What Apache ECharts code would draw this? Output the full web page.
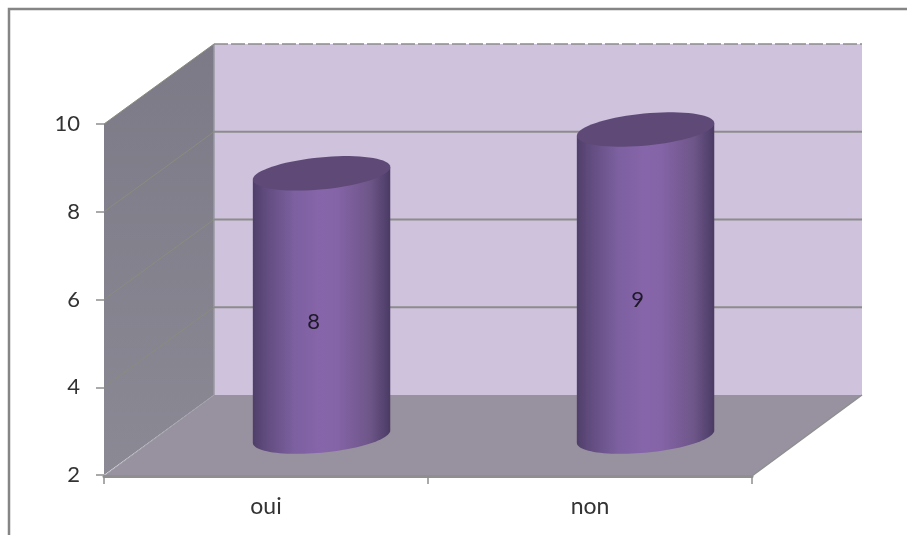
<!DOCTYPE html>
<html>
<head>
<meta charset="utf-8">
<style>
  html, body { margin: 0; padding: 0; background: #fff; }
  #chart { width: 907px; height: 535px; }
</style>
<script src="https://cdn.jsdelivr.net/npm/echarts@6/dist/echarts.min.js"></script>
</head>
<body>
<div id="chart"></div>
<script>
const categories = ['oui', 'non'];
const answers = [8, 9];
const tickValues = [2, 4, 6, 8, 10];

// Oblique projection of the chart box: how far the back wall sits from the front plane.
const DEPTH_X = 110;
const DEPTH_Y = 80;
// Where the cylinders stand between the front plane (0) and the back wall (1).
const BAR_DEPTH_X = 0.505;
const BAR_DEPTH_Y = 0.48;
// Cylinder footprint, relative to the category band width.
const RADIUS_RATIO = 0.213;
const MINOR_RADIUS = 16;
const TILT = 5.5 * Math.PI / 180;

const font = 'Lato, "Open Sans", sans-serif';

// Draws the walls, floor and the gridlines that run around the box.
function renderBox(params, api) {
  const value = api.value(1);
  const band = api.size([1, 0])[0];
  const left = api.coord([0, 2])[0] - band / 2;
  const right = left + band * 2;
  const y = api.coord([0, value])[1];
  const top = api.coord([0, 10])[1];
  const bottom = api.coord([0, 2])[1];
  const children = [];

  if (value === 2) {
    children.push({
      type: 'polygon',
      shape: { points: [[left + DEPTH_X, top - DEPTH_Y], [right + DEPTH_X, top - DEPTH_Y],
                        [right + DEPTH_X, bottom - DEPTH_Y], [left + DEPTH_X, bottom - DEPTH_Y]] },
      style: { fill: '#cec2dd' }
    }, {
      type: 'polygon',
      shape: { points: [[left, top], [left + DEPTH_X, top - DEPTH_Y],
                        [left + DEPTH_X, bottom - DEPTH_Y], [left, bottom]] },
      style: {
        fill: new echarts.graphic.LinearGradient(0, 0, 0, 1, [
          { offset: 0, color: '#7c7a86' },
          { offset: 1, color: '#8b8994' }
        ])
      }
    }, {
      type: 'polygon',
      shape: { points: [[left, bottom + 1], [right, bottom + 1],
                        [right + DEPTH_X, bottom - DEPTH_Y], [left + DEPTH_X, bottom - DEPTH_Y]] },
      style: { fill: '#9891a0' }
    }, {
      type: 'line',
      shape: { x1: left, y1: bottom + 1, x2: left + DEPTH_X, y2: bottom - DEPTH_Y },
      style: { stroke: '#a3a1ab', lineWidth: 1 }
    }, {
      type: 'line',
      shape: { x1: left + DEPTH_X, y1: top - DEPTH_Y, x2: left + DEPTH_X, y2: bottom - DEPTH_Y },
      style: { stroke: '#9a98a4', lineWidth: 1.5 }
    }, {
      type: 'line',
      shape: { x1: right, y1: bottom + 1, x2: right + DEPTH_X, y2: bottom - DEPTH_Y },
      style: { stroke: '#8f8f8f', lineWidth: 1.5 }
    });
  } else {
    // Gridline on the side wall, then across the back wall.
    children.push({
      type: 'line',
      shape: { x1: left, y1: y, x2: left + DEPTH_X, y2: y - DEPTH_Y },
      style: { stroke: '#8b8b80', lineWidth: 1 }
    }, {
      type: 'line',
      shape: { x1: left + DEPTH_X, y1: y - DEPTH_Y, x2: right + DEPTH_X, y2: y - DEPTH_Y },
      style: value === 10
        ? { stroke: '#8c8c8c', lineWidth: 1.5, lineDash: [14, 3] }
        : { stroke: '#8c8c8c', lineWidth: 2 }
    });
  }
  return { type: 'group', children };
}

// Draws one tilted cylinder from its category and value.
function renderCylinder(params, api) {
  const band = api.size([1, 0])[0];
  const base = api.coord([api.value(0), 2]);
  const head = api.coord([api.value(0), api.value(1)]);
  const cx = base[0] + DEPTH_X * BAR_DEPTH_X;
  const yBase = base[1] - DEPTH_Y * BAR_DEPTH_Y;
  const yHead = head[1] - DEPTH_Y * BAR_DEPTH_Y;
  const rx = band * RADIUS_RATIO;

  const cos = Math.cos(TILT);
  const sin = Math.sin(TILT);
  const rimPoint = (cy, t) => {
    const ex = rx * Math.cos(t);
    const ey = MINOR_RADIUS * Math.sin(t);
    return [cx + ex * cos + ey * sin, cy - ex * sin + ey * cos];
  };

  // Parameter of the left and right silhouette points of the tilted rim.
  const tRight = Math.atan2(MINOR_RADIUS * sin, rx * cos);
  const tLeft = tRight + Math.PI;

  const points = [];
  const steps = 48;
  points.push(rimPoint(yHead, tRight));
  for (let i = 0; i <= steps; i++) {
    points.push(rimPoint(yBase, tRight + (tLeft - tRight) * i / steps));
  }
  points.push(rimPoint(yHead, tLeft));

  const topRim = [];
  for (let i = 0; i < 72; i++) {
    topRim.push(rimPoint(yHead, i / 72 * Math.PI * 2));
  }

  return {
    type: 'group',
    children: [{
      type: 'polygon',
      shape: { points },
      style: {
        fill: new echarts.graphic.LinearGradient(0, 0, 1, 0, [
          { offset: 0, color: '#4f3e69' },
          { offset: 0.08, color: '#5f4a7c' },
          { offset: 0.3, color: '#7c60a0' },
          { offset: 0.5, color: '#8765aa' },
          { offset: 0.62, color: '#8463a6' },
          { offset: 0.85, color: '#6e5689' },
          { offset: 0.96, color: '#54426f' },
          { offset: 1, color: '#4a3b62' }
        ])
      }
    }, {
      type: 'polygon',
      shape: { points: topRim },
      style: { fill: '#5f4977' }
    }, {
      type: 'text',
      style: {
        text: String(api.value(1)),
        x: cx - 8,
        y: (yBase + yHead) / 2 + 17,
        align: 'center',
        verticalAlign: 'middle',
        fill: '#1e1a28',
        font: '22px ' + font
      }
    }]
  };
}

const chart = echarts.init(document.getElementById('chart'), null, { renderer: 'canvas' });
chart.setOption({
  animation: false,
  backgroundColor: '#ffffff',
  grid: { left: 104, right: 155, top: 124, bottom: 60, containLabel: false },
  graphic: [{
    type: 'polyline',
    silent: true,
    shape: { points: [[9, 535], [9, 9], [907, 9]] },
    style: { stroke: '#858585', fill: null, lineWidth: 2.5 },
    z: -1
  }],
  xAxis: {
    type: 'category',
    data: categories,
    offset: 1,
    axisLine: { show: true, lineStyle: { color: '#8f8f8f', width: 3 } },
    axisTick: { show: true, length: 8, lineStyle: { color: '#8f8f8f', width: 1.5 } },
    axisLabel: { color: '#333', fontSize: 23, fontFamily: font, margin: 19 },
    splitLine: { show: false },
    z: 5
  },
  yAxis: {
    type: 'value',
    min: 2,
    max: 10,
    interval: 2,
    axisLine: { show: false },
    axisTick: { show: true, length: 8, lineStyle: { color: '#8f8f8f', width: 1.5 } },
    axisLabel: { color: '#333', fontSize: 22, fontFamily: font, margin: 24, padding: [9, 0, 0, 0] },
    splitLine: { show: false },
    z: 5
  },
  series: [{
    type: 'custom',
    name: 'box',
    coordinateSystem: 'cartesian2d',
    silent: true,
    z: 1,
    clip: false,
    renderItem: renderBox,
    encode: { x: 0, y: 1 },
    data: tickValues.map(t => [0, t])
  }, {
    type: 'custom',
    name: 'réponses',
    coordinateSystem: 'cartesian2d',
    z: 2,
    clip: false,
    renderItem: renderCylinder,
    encode: { x: 0, y: 1 },
    data: answers.map((v, i) => [i, v])
  }]
});
</script>
</body>
</html>
